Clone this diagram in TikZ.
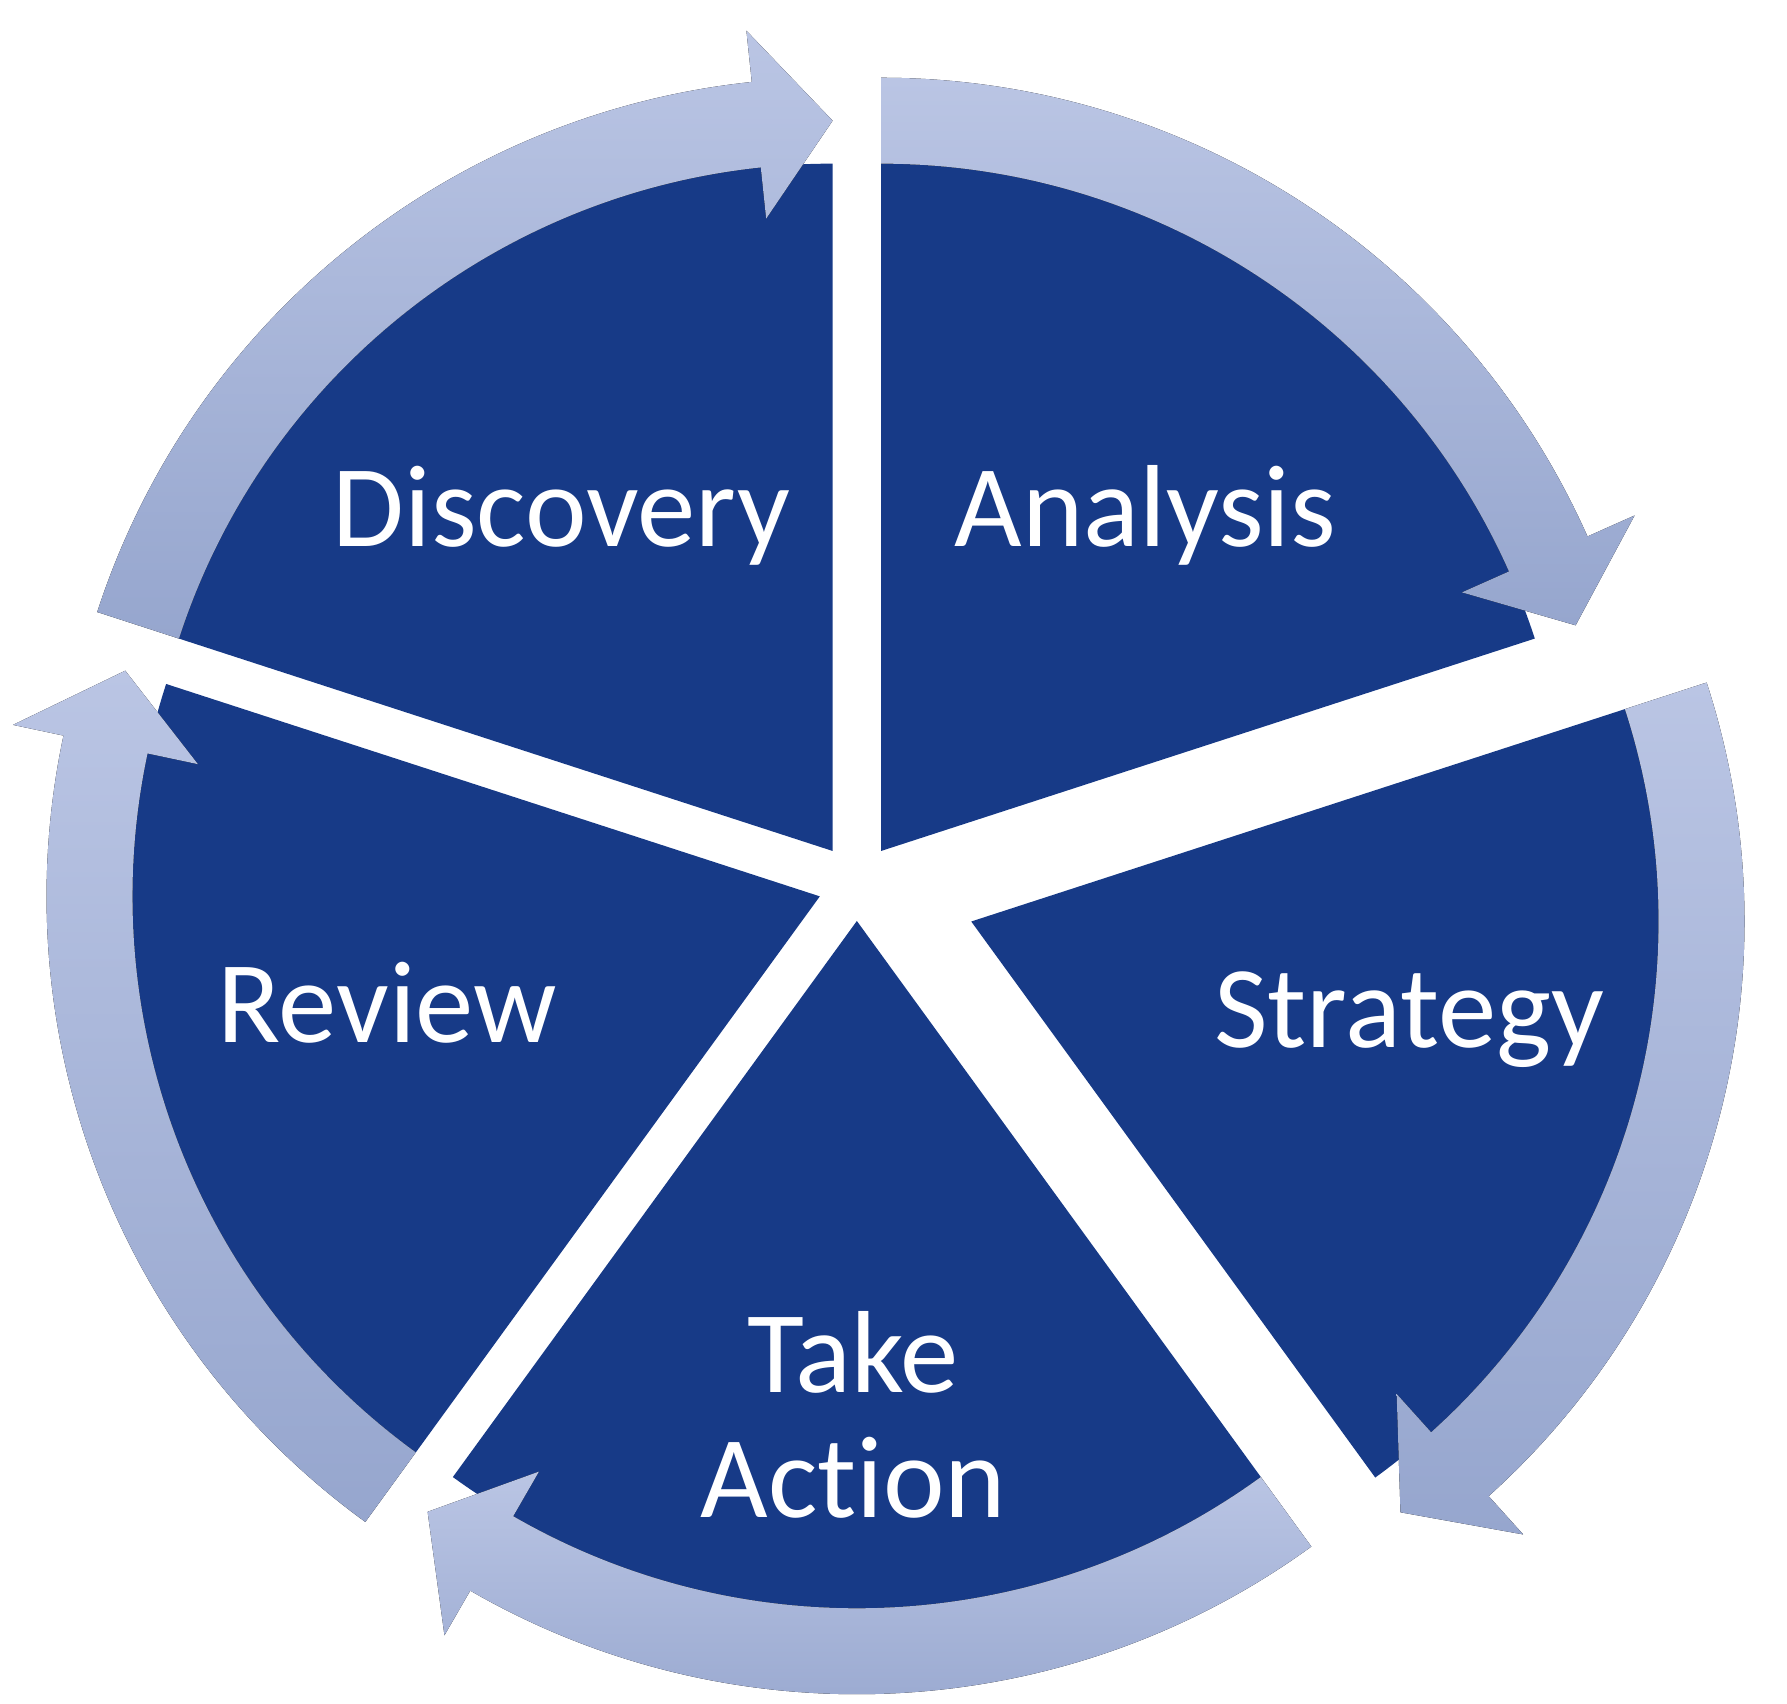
\documentclass[tikz,border=0pt]{standalone}
\usepackage{fontspec}
\setmainfont{Carlito}[Ligatures=NoCommon]
\usetikzlibrary{positioning}
\definecolor{wedgeblue}{RGB}{23,58,135}
\definecolor{ringlight}{RGB}{186,197,228}
\definecolor{ringdark}{RGB}{150,166,206}
\tikzset{wedge/.style={fill=wedgeblue}}
\tikzset{ring/.style={top color=ringlight,bottom color=ringdark}}
\tikzset{phase/.style={text=white,font=\fontsize{29}{31}\selectfont,align=center}}

\begin{document}
\begin{tikzpicture}
        \useasboundingbox (0,0) rectangle (15.6,14.87);

        \begin{scope}[shift={(7.48,7.15)}]
        \foreach \lo/\off in {90/0.36,18/0.36,-54/1.05,-126/0.32,162/0.34}{
            \begin{scope}[shift={(\lo+36:\off)}]
            \fill[wedge] (0,0) -- (\lo:6) arc[start angle=\lo,end angle=\lo+72,radius=6] -- cycle;
            \fill[ring] (\lo+72:6.75) arc[start angle=\lo+72,end angle=\lo+6,radius=6.75]
                -- (\lo+6:7.2) -- (\lo:6.375) -- (\lo+6:5.55) -- (\lo+6:6)
                arc[start angle=\lo+6,end angle=\lo+72,radius=6] -- cycle;
            \end{scope}
        }
        \end{scope}

        \node[phase] (disc) at (4.9,10.37) {Discovery};
        \node[phase] (anal) at (10.0,10.37) {Analysis};
        \node[phase] (strat) at (12.3,5.97) {Strategy};
        \node[phase] (act) at (7.45,2.52) {Take\\Action};
        \node[phase] (rev) at (3.38,6.12) {Review};
\end{tikzpicture}
\end{document}
